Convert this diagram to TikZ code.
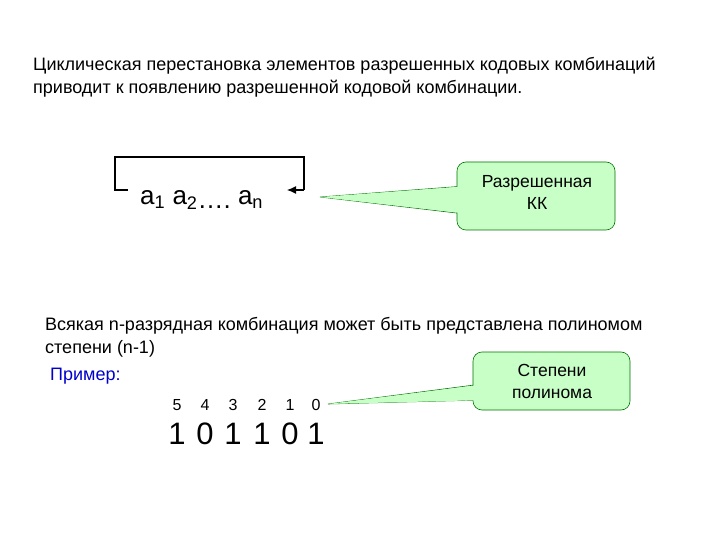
\documentclass[tikz,border=0pt]{standalone}
\usepackage{fontspec}
\setmainfont{Liberation Sans}
\usetikzlibrary{arrows.meta}
\begin{document}
\begin{tikzpicture}[x=1pt,y=-1pt,
  txt/.style={anchor=base west,inner sep=0pt,font=\fontsize{18}{20}\selectfont},
  call/.style={fill=green!22,draw=green!45!black,line width=0.6pt},
  big/.style={anchor=base,inner sep=0pt,font=\fontsize{31}{34}\selectfont},
  small/.style={anchor=base,inner sep=0pt,font=\fontsize{16}{20}\selectfont}]
\useasboundingbox (0,0) rectangle (720,540);
\node[txt] (t1) at (33,71) {Циклическая перестановка элементов разрешенных кодовых комбинаций};
\node[txt] (t2) at (33,94) {приводит к появлению разрешенной кодовой комбинации.};
% sequence
\node[anchor=base west,inner sep=0pt,font=\fontsize{26}{28}\selectfont] (seq) at (140,205)
  {a\textsubscript{1} a\textsubscript{2}\raisebox{-4pt}{….} a\textsubscript{n}};
\coordinate (bl) at (115,190); \coordinate (bs) at (128,190);
\coordinate (br) at (304,190); \coordinate (be) at (287,190);
\draw[line width=1.2pt] (bs) -- (bl) -- (115,157) -- (304,157) -- (br);
\draw[line width=1.2pt,-{Latex[length=9pt,width=8pt]}] (br) -- (be);
% callout 1
\coordinate (tip1) at (320,197);
\draw[call] (tip1) -- (465,186) -- (465,214) -- cycle;
\draw[call,rounded corners=9pt] (457,162) rectangle (615,230);
\fill[green!22] (tip1) -- (470,186) -- (470,214) -- cycle;
\node[align=center,font=\fontsize{17.5}{22}\selectfont] (c1) at (537,192) {Разрешенная\\КК};
% second part
\node[txt] (t3) at (45,330) {Всякая n-разрядная комбинация может быть представлена  полиномом};
\node[txt] (t4) at (45,353) {степени (n-1)};
\node[txt,text=blue!80!black] (t5) at (50,380) {Пример:};
\foreach \x/\d/\b [count=\i] in {177/5/1,205/4/0,233/3/1,262/2/1,290/1/0,316/0/1}{
  \node[small] (s\i) at (\x,410) {\d};
  \node[big] (b\i) at (\x,444) {\b};
}
\coordinate (tip2) at (328,404);
\draw[call] (tip2) -- (482,384) -- (482,400) -- cycle;
\draw[call,rounded corners=9pt] (473,352) rectangle (630,410);
\fill[green!22] (tip2) -- (487,384) -- (487,400) -- cycle;
\node[align=center,font=\fontsize{17.5}{22}\selectfont] (c2) at (552,381) {Степени\\полинома};
\end{tikzpicture}
\end{document}
